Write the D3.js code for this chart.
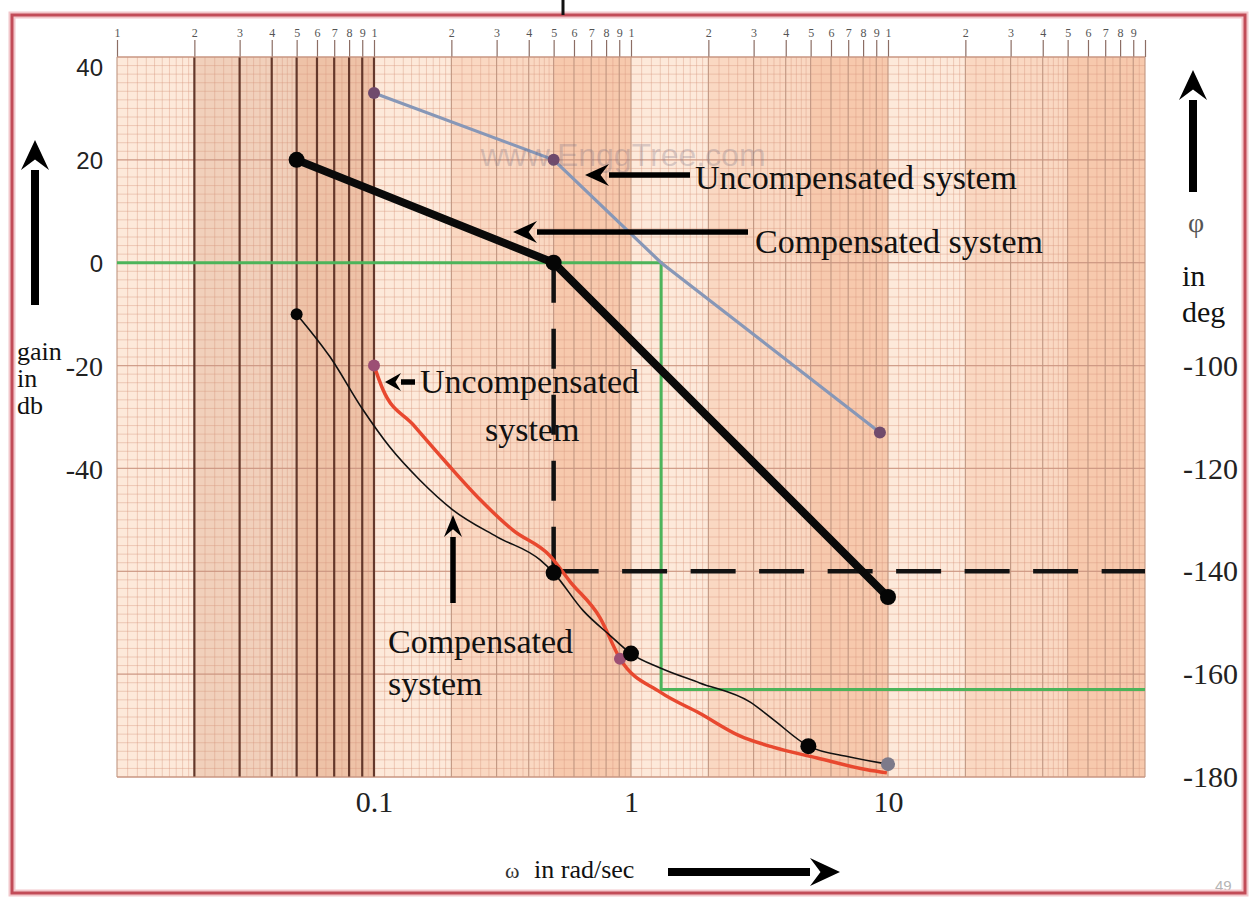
<!DOCTYPE html>
<html><head><meta charset="utf-8">
<script src="https://cdn.jsdelivr.net/npm/d3@7"></script>
<style>html,body{margin:0;padding:0;background:#fff;} svg{display:block}</style>
</head><body>
<svg id="chart" width="1252" height="901"></svg>
<script>
// ---------- data ----------
const decades = [0.01, 0.1, 1, 10];
const decadeDigits = [1, 2, 3, 4, 5, 6, 7, 8, 9];
const freqTicks = [0.1, 1, 10];
const freqTickLabels = ["0.1", "1", "10"];
const gainTicks = [40, 20, 0, -20, -40];
const gainTickLabels = ["40", "20", "0", "-20", "-40"];
const phaseTicks = [-100, -120, -140, -160, -180];
const phaseTickLabels = ["-100", "-120", "-140", "-160", "-180"];

const uncompGainW = [0.1, 0.5, 1.31, 9.3];
const uncompGainDb = [33, 20, 0, -33];
const uncompGainMarkW = [0.1, 0.5, 9.3];
const uncompGainMarkDb = [33, 20, -33];

const compGainW = [0.05, 0.5, 10];
const compGainDb = [20, 0, -65];

const uncompPhaseW = [0.1, 0.108, 0.142, 0.192, 0.258, 0.347, 0.484, 0.579, 0.757, 0.906, 1.3, 1.85, 2.65, 3.57, 5.3, 8.3, 9.9];
const uncompPhaseDeg = [-100, -104.5, -111.5, -119, -126, -132, -137, -142, -149, -157, -163.5, -167.6, -172, -174.2, -176.3, -178.6, -179.2];
const uncompPhaseMarkW = [0.1, 0.906];
const uncompPhaseMarkDeg = [-100, -157];

const compPhaseW = [0.05, 0.0674, 0.0906, 0.115, 0.151, 0.203, 0.301, 0.443, 0.5, 0.65, 0.83, 1.0, 1.3, 1.85, 2.9, 3.57, 4.9, 7.1, 10];
const compPhaseDeg = [-90, -98.3, -108.6, -115.8, -122.3, -128.1, -133.3, -137.8, -140.3, -147.6, -152.5, -156, -158.8, -161.7, -165.4, -168.8, -174, -176.1, -177.5];
const compPhaseMarkW = [0.05, 0.5, 1.0, 4.9];
const compPhaseMarkDeg = [-90, -140.3, -156, -174];
const endMarkW = [10];
const endMarkDeg = [-177.5];

const gainCrossW = 1.31;      // uncompensated gain crossover
const phaseAtGainCross = -163;
const compCrossW = 0.5;       // compensated gain crossover
const compPhaseAtCross = -140;

// ---------- setup ----------
const svg = d3.select("#chart");
const W = 1252, H = 901;
const L = 117, R = 1145, T = 57, B = 777;
const x = d3.scaleLog().domain([0.01, 100]).range([L, R]);
const yG = d3.scaleLinear().domain([-100, 40]).range([B, T]);
const yP = d3.scaleLinear().domain([-180, -40]).range([B, T]);
const serif = "'Liberation Serif', 'Times New Roman', serif";
const sans = "'Liberation Sans', Arial, sans-serif";

svg.append("rect").attr("width", W).attr("height", H).attr("fill", "#fff");

// ---------- graph paper ----------
const paper = svg.append("g");
const bandDefs = [[1, 2, "#fde9da"], [2, 5, "#fad8c2"], [5, 10, "#f7c9ad"]];
decades.forEach((d, i) => {
  bandDefs.forEach(b => {
    paper.append("rect")
      .attr("x", x(d * b[0])).attr("y", T)
      .attr("width", x(d * b[1]) - x(d * b[0])).attr("height", B - T)
      .attr("fill", i === 0 && b[0] > 1 ? d3.color(b[2]).darker(0.1) : b[2]);
  });
});
// minor vertical lines
const minorV = [];
decades.forEach(d => {
  for (let v = 1.1; v < 2 - 1e-9; v += 0.1) minorV.push(d * v);
  for (let v = 2.2; v < 5 - 1e-9; v += 0.2) if (Math.abs(v - Math.round(v)) > 1e-6) minorV.push(d * v);
  for (let v = 5.5; v < 10 - 1e-9; v += 1) minorV.push(d * v);
});
paper.selectAll(".mv").data(minorV).join("line")
  .attr("x1", d => x(d)).attr("x2", d => x(d)).attr("y1", T).attr("y2", B)
  .attr("stroke", "#d8957c").attr("stroke-opacity", 0.4).attr("stroke-width", 1);
// minor horizontal lines
const minorH = d3.range(0, 12 * 7 + 1).map(i => -100 + i * 20 / 12);
paper.selectAll(".mh").data(minorH).join("line")
  .attr("x1", L).attr("x2", R).attr("y1", d => yG(d)).attr("y2", d => yG(d))
  .attr("stroke", "#d8957c").attr("stroke-opacity", 0.4).attr("stroke-width", 1);
// major horizontal lines every 20 dB
paper.selectAll(".Mh").data(d3.range(-100, 41, 20)).join("line")
  .attr("x1", L).attr("x2", R).attr("y1", d => yG(d)).attr("y2", d => yG(d))
  .attr("stroke", "#c99480").attr("stroke-opacity", 0.8).attr("stroke-width", 1.2);
// integer lines in each decade
const intV = [];
decades.forEach((d, i) => decadeDigits.forEach(k => intV.push({ v: d * k, first: i === 0 })));
intV.push({ v: 100, first: false });
intV.push({ v: 0.1, first: true });
paper.selectAll(".iv").data(intV).join("line")
  .attr("x1", d => x(d.v)).attr("x2", d => x(d.v)).attr("y1", T).attr("y2", B)
  .attr("stroke", d => d.first && d.v > 0.01 ? "#64382b" : "#c09580")
  .attr("stroke-width", d => d.first && d.v > 0.01 ? 2.2 : 1.1);

// top axis with decade digits
const topVals = [];
decades.forEach(d => decadeDigits.forEach(k => topVals.push(d * k)));
topVals.push(100);
const topAxis = d3.axisTop(x).tickValues(topVals).tickSize(17).tickPadding(3)
  .tickFormat(v => v >= 100 ? "" : String(Math.round(v / Math.pow(10, Math.floor(Math.log10(v) + 1e-9)))));
const gTop = svg.append("g").attr("transform", `translate(0,${T})`).call(topAxis);
gTop.select(".domain").remove();
gTop.selectAll("line").attr("stroke", "#8c6d64").attr("stroke-width", 1.2);
gTop.selectAll("text").attr("font-family", serif).attr("font-size", 12).attr("fill", "#555");
svg.append("line").attr("x1", L).attr("x2", R).attr("y1", T).attr("y2", T).attr("stroke", "#c79a85").attr("stroke-width", 1.2);
svg.append("line").attr("x1", L).attr("x2", R).attr("y1", B).attr("y2", B).attr("stroke", "#c79a85").attr("stroke-width", 1.2);

// ---------- reference lines ----------
const green = [
  [x(0.01), yG(0)], [x(gainCrossW), yG(0)],
  [x(gainCrossW), yP(phaseAtGainCross)], [x(100), yP(phaseAtGainCross)]
];
svg.append("path").attr("d", d3.line()(green)).attr("fill", "none")
  .attr("stroke", "#4cb45a").attr("stroke-width", 3);

svg.append("line")
  .attr("x1", x(compCrossW)).attr("x2", x(compCrossW))
  .attr("y1", yG(0)).attr("y2", yP(compPhaseAtCross))
  .attr("stroke", "#111").attr("stroke-width", 4.5).attr("stroke-dasharray", "40,26");
svg.append("line")
  .attr("x1", x(compCrossW)).attr("x2", x(100))
  .attr("y1", yP(compPhaseAtCross)).attr("y2", yP(compPhaseAtCross))
  .attr("stroke", "#111").attr("stroke-width", 4.5).attr("stroke-dasharray", "45,23.5");

// ---------- curves ----------
const lineG = d3.line().x(d => x(d[0])).y(d => yG(d[1]));
const lineP = d3.line().x(d => x(d[0])).y(d => yP(d[1])).curve(d3.curveMonotoneX);

svg.append("path").attr("d", lineG(d3.zip(uncompGainW, uncompGainDb)))
  .attr("fill", "none").attr("stroke", "#8797b7").attr("stroke-width", 3.2);
svg.append("path").attr("d", lineG(d3.zip(compGainW, compGainDb)))
  .attr("fill", "none").attr("stroke", "#0a0a0a").attr("stroke-width", 8).attr("stroke-linecap", "round");
svg.append("path").attr("d", lineP(d3.zip(uncompPhaseW, uncompPhaseDeg)))
  .attr("fill", "none").attr("stroke", "#e8482f").attr("stroke-width", 3.5);
svg.append("path").attr("d", lineP(d3.zip(compPhaseW, compPhaseDeg)))
  .attr("fill", "none").attr("stroke", "#111").attr("stroke-width", 1.6);

// markers
svg.selectAll(".um").data(d3.zip(uncompGainMarkW, uncompGainMarkDb)).join("circle")
  .attr("cx", d => x(d[0])).attr("cy", d => yG(d[1])).attr("r", 6).attr("fill", "#6f4a6c");
svg.selectAll(".cm").data(d3.zip(compGainW, compGainDb)).join("circle")
  .attr("cx", d => x(d[0])).attr("cy", d => yG(d[1])).attr("r", 8).attr("fill", "#050505");
svg.selectAll(".up").data(d3.zip(uncompPhaseMarkW, uncompPhaseMarkDeg)).join("circle")
  .attr("cx", d => x(d[0])).attr("cy", d => yP(d[1])).attr("r", 6).attr("fill", "#9c4f74");
svg.selectAll(".cp").data(d3.zip(compPhaseMarkW, compPhaseMarkDeg)).join("circle")
  .attr("cx", d => x(d[0])).attr("cy", d => yP(d[1])).attr("r", (d, i) => i === 0 ? 6 : 8).attr("fill", "#050505");
svg.selectAll(".em").data(d3.zip(endMarkW, endMarkDeg)).join("circle")
  .attr("cx", d => x(d[0])).attr("cy", d => yP(d[1])).attr("r", 7).attr("fill", "#7d7a8a");

// ---------- axes labels ----------
const gL = svg.append("g").attr("transform", `translate(${L - 14},0)`)
  .call(d3.axisLeft(yG).tickValues(gainTicks).tickSize(0).tickPadding(0).tickFormat((d, i) => gainTickLabels[i]));
gL.select(".domain").remove();
gL.selectAll("text")
  .attr("font-family", d => d >= 0 ? sans : serif)
  .attr("font-size", d => d >= 0 ? 24 : 28)
  .attr("fill", "#222")
  .attr("dy", d => d === 40 ? "0.75em" : "0.35em");

const gR = svg.append("g").attr("transform", `translate(${R + 38},0)`)
  .call(d3.axisRight(yP).tickValues(phaseTicks).tickSize(0).tickPadding(0).tickFormat((d, i) => phaseTickLabels[i]));
gR.select(".domain").remove();
gR.selectAll("text").attr("font-family", serif).attr("font-size", 30).attr("fill", "#222");

const gB = svg.append("g").attr("transform", `translate(0,${B + 14})`)
  .call(d3.axisBottom(x).tickValues(freqTicks).tickSize(0).tickPadding(0).tickFormat((d, i) => freqTickLabels[i]));
gB.select(".domain").remove();
gB.selectAll("text").attr("font-family", serif).attr("font-size", 30).attr("fill", "#222");

// ---------- annotations ----------
function arrow(x1, y1, x2, y2, w, hl, hw) {
  const a = Math.atan2(y2 - y1, x2 - x1);
  const bx = x2 - hl * Math.cos(a), by = y2 - hl * Math.sin(a);
  svg.append("line").attr("x1", x1).attr("y1", y1).attr("x2", bx).attr("y2", by)
    .attr("stroke", "#000").attr("stroke-width", w);
  const px = -Math.sin(a) * hw / 2, py = Math.cos(a) * hw / 2;
  svg.append("path").attr("d", `M${x2},${y2}L${bx + px},${by + py}L${bx + 0.35 * hl * Math.cos(a)},${by + 0.35 * hl * Math.sin(a)}L${bx - px},${by - py}Z`)
    .attr("fill", "#000");
}
function txt(s, tx, ty, size, fam, fill, anchor) {
  return svg.append("text").attr("x", tx).attr("y", ty).attr("font-family", fam || serif)
    .attr("font-size", size).attr("fill", fill || "#111").attr("text-anchor", anchor || "start").text(s);
}

// watermark
txt("www.EnggTree.com", 623, 166, 32, sans, "rgba(105,100,125,0.26)", "middle");

txt("Uncompensated system", 695, 189, 34);
arrow(690, 175, 585, 175, 5.5, 24, 22);
txt("Compensated system", 755, 253, 34);
arrow(748, 232, 513, 232, 5.5, 24, 22);
txt("Uncompensated", 420, 393, 34);
txt("system", 485, 441, 34);
arrow(415, 382, 385, 382, 5.5, 16, 18);
txt("Compensated", 388, 653, 34);
txt("system", 388, 695, 34);
arrow(453, 603, 453, 515, 5.5, 22, 18);

// side titles
txt("gain", 17, 360, 26);
txt("in", 17, 387, 26);
txt("db", 17, 414, 26);
arrow(35, 305, 35, 140, 8, 30, 28);

txt("φ", 1196, 232, 28, serif, "#555", "middle");
txt("in", 1182, 286, 30);
txt("deg", 1182, 322, 30);
arrow(1193, 192, 1193, 70, 8, 30, 28);

txt("ω", 505, 878, 22, serif, "#333");
txt("in rad/sec", 534, 878, 26);
arrow(668, 872, 840, 872, 8, 30, 28);

txt("49", 1215, 891, 15, sans, "#b5b5b5");

// frame
svg.append("rect").attr("x", 12).attr("y", 15).attr("width", 1233).attr("height", 878)
  .attr("fill", "none").attr("stroke", "#f2c7cb").attr("stroke-width", 7);
svg.append("rect").attr("x", 12).attr("y", 15).attr("width", 1233).attr("height", 878)
  .attr("fill", "none").attr("stroke", "#c24c58").attr("stroke-width", 3);
svg.append("line").attr("x1", 563).attr("x2", 563).attr("y1", 0).attr("y2", 15)
  .attr("stroke", "#111").attr("stroke-width", 3);
</script>
</body></html>
